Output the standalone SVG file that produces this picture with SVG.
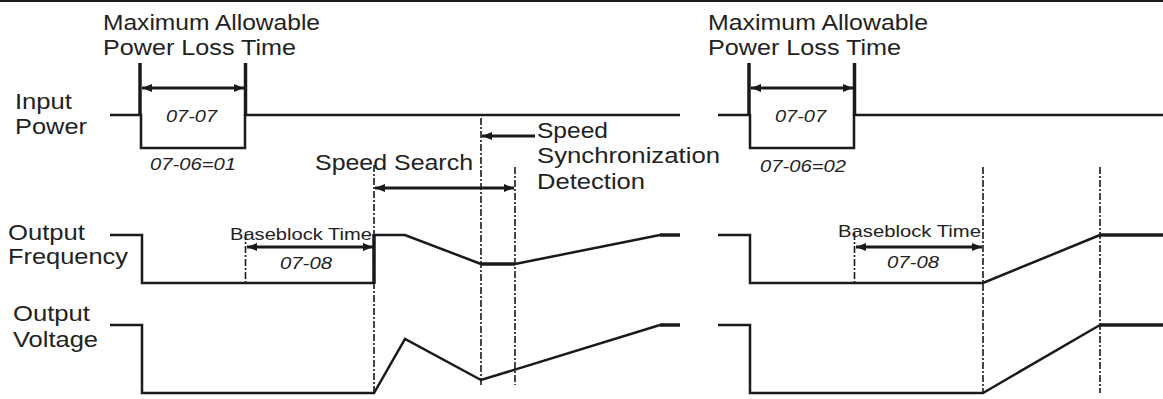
<svg xmlns="http://www.w3.org/2000/svg" width="1163" height="399" viewBox="0 0 1163 399">
<style>
.w{fill:none;stroke:#1a1a1a;stroke-width:2.5;stroke-linejoin:miter}
.tk{fill:none;stroke:#1a1a1a;stroke-width:3.5}
.th{fill:none;stroke:#1a1a1a;stroke-width:3.5}
.d{fill:none;stroke:#1a1a1a;stroke-width:1.6;stroke-dasharray:7 2 2 2}
.a{fill:none;stroke:#1a1a1a;stroke-width:3;marker-start:url(#ah);marker-end:url(#ah)}
.a1{fill:none;stroke:#1a1a1a;stroke-width:3;marker-end:url(#ah)}
.L{font-family:"Liberation Sans",Arial,sans-serif;font-size:22px;fill:#222}
.S{font-family:"Liberation Sans",Arial,sans-serif;font-size:17px;fill:#222}
.I{font-family:"Liberation Sans",Arial,sans-serif;font-size:17px;font-style:italic;fill:#222}
</style>
<defs>
<marker id="ah" viewBox="0 0 10 8" refX="10" refY="4" markerWidth="11" markerHeight="8" markerUnits="userSpaceOnUse" orient="auto-start-reverse">
<path d="M0,0 L10,4 L0,8 Z" fill="#1a1a1a"/>
</marker>
</defs>
<rect width="1163" height="399" fill="#fff"/>
<line x1="0" y1="1" x2="1163" y2="1" stroke="#1a1a1a" stroke-width="2"/>

<g id="labels">
<text class="L" x="15" y="109" textLength="57" lengthAdjust="spacingAndGlyphs">Input</text>
<text class="L" x="15" y="134" textLength="72" lengthAdjust="spacingAndGlyphs">Power</text>
<text class="L" x="8" y="240" textLength="77" lengthAdjust="spacingAndGlyphs">Output</text>
<text class="L" x="8" y="264" textLength="120" lengthAdjust="spacingAndGlyphs">Frequency</text>
<text class="L" x="13" y="321" textLength="77" lengthAdjust="spacingAndGlyphs">Output</text>
<text class="L" x="13" y="347" textLength="85" lengthAdjust="spacingAndGlyphs">Voltage</text>
</g>

<g id="left-panel">
<text class="L" x="103" y="30" textLength="217" lengthAdjust="spacingAndGlyphs">Maximum Allowable</text>
<text class="L" x="103" y="55" textLength="193" lengthAdjust="spacingAndGlyphs">Power Loss Time</text>
<polyline class="w" points="110,115 141,115 141,148 245,148 245,115 680,115"/>
<line class="tk" x1="140" y1="63" x2="140" y2="116"/>
<line class="tk" x1="245.5" y1="63" x2="245.5" y2="116"/>
<text class="I" x="166" y="122" textLength="51" lengthAdjust="spacingAndGlyphs">07-07</text>
<text class="I" x="150" y="170" textLength="86" lengthAdjust="spacingAndGlyphs">07-06=01</text>
<polyline class="w" points="110,235 142,235 142,283 374,283"/>
<line class="th" x1="374" y1="284" x2="374" y2="234"/>
<polyline class="w" points="374,235 405,235 481,264"/>
<line class="th" x1="481" y1="264" x2="515" y2="264"/>
<polyline class="w" points="515,264 660,235"/>
<line class="th" x1="660" y1="235" x2="680" y2="235"/>
<text class="S" x="230" y="240" textLength="142" lengthAdjust="spacingAndGlyphs">Baseblock Time</text>
<text class="I" x="280" y="269" textLength="52" lengthAdjust="spacingAndGlyphs">07-08</text>
<polyline class="w" points="110,325 142,325 142,393 374,393 405,339 481,380 660,325"/>
<line class="th" x1="660" y1="325" x2="680" y2="325"/>
<text class="L" x="315" y="170" textLength="158" lengthAdjust="spacingAndGlyphs">Speed Search</text>
<text class="L" x="537" y="138" textLength="71" lengthAdjust="spacingAndGlyphs">Speed</text>
<text class="L" x="537" y="163" textLength="183" lengthAdjust="spacingAndGlyphs">Synchronization</text>
<text class="L" x="537" y="189" textLength="108" lengthAdjust="spacingAndGlyphs">Detection</text>
</g>

<g id="right-panel">
<text class="L" x="708" y="30" textLength="220" lengthAdjust="spacingAndGlyphs">Maximum Allowable</text>
<text class="L" x="708" y="55" textLength="193" lengthAdjust="spacingAndGlyphs">Power Loss Time</text>
<polyline class="w" points="718,115 750,115 750,148 854,148 854,115 1163,115"/>
<line class="tk" x1="749" y1="63" x2="749" y2="116"/>
<line class="tk" x1="854.5" y1="63" x2="854.5" y2="116"/>
<text class="I" x="775" y="122" textLength="51" lengthAdjust="spacingAndGlyphs">07-07</text>
<text class="I" x="760" y="172" textLength="86" lengthAdjust="spacingAndGlyphs">07-06=02</text>
<polyline class="w" points="718,235 750,235 750,283 983,283 1100,235"/>
<line class="th" x1="1100" y1="235" x2="1163" y2="235"/>
<text class="S" x="838" y="237" textLength="143" lengthAdjust="spacingAndGlyphs">Baseblock Time</text>
<text class="I" x="887" y="268" textLength="52" lengthAdjust="spacingAndGlyphs">07-08</text>
<polyline class="w" points="718,325 750,325 750,393 983,393 1100,325"/>
<line class="th" x1="1100" y1="325" x2="1163" y2="325"/>
</g>

<g id="connectors">
<line class="d" x1="374" y1="165" x2="374" y2="393"/>
<line class="d" x1="481" y1="118" x2="481" y2="385"/>
<line class="d" x1="515" y1="167" x2="515" y2="385"/>
<line class="d" x1="245.5" y1="233" x2="245.5" y2="283"/>
<line class="d" x1="854.5" y1="233" x2="854.5" y2="283"/>
<line class="d" x1="983" y1="167" x2="983" y2="393"/>
<line class="d" x1="1100" y1="167" x2="1100" y2="393"/>
<line class="a" x1="142" y1="88" x2="244" y2="88"/>
<line class="a" x1="751" y1="88" x2="853" y2="88"/>
<line class="a" x1="375" y1="188" x2="514" y2="188"/>
<line class="a1" x1="535" y1="136" x2="482" y2="136"/>
<line class="a" x1="247" y1="247" x2="373" y2="247"/>
<line class="a" x1="856" y1="247" x2="982" y2="247"/>
</g>
</svg>
